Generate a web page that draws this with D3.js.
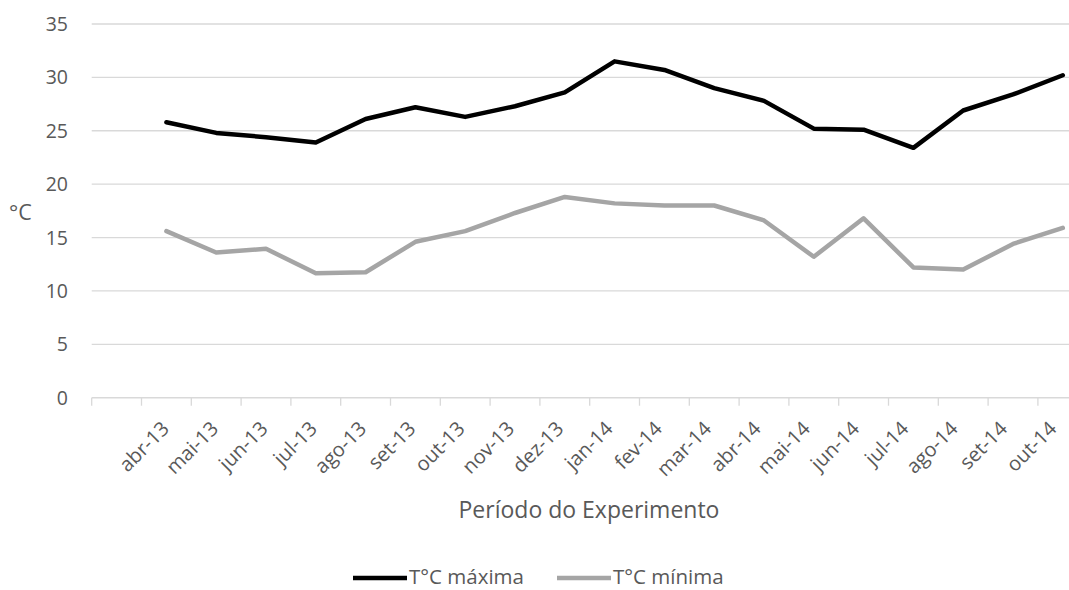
<!DOCTYPE html>
<html>
<head>
<meta charset="utf-8">
<script src="https://cdn.jsdelivr.net/npm/d3@7"></script>
<style>
  html, body { margin: 0; padding: 0; background: #fff; }
  svg { display: block; }
  text { font-family: "Open Sans", Lato, sans-serif; fill: #595959; }
</style>
</head>
<body>
<svg id="chart" width="1069" height="590"></svg>
<script>
// ---- data ----
const categories = ["", "abr-13", "mai-13", "jun-13", "jul-13", "ago-13", "set-13", "out-13", "nov-13", "dez-13",
  "jan-14", "fev-14", "mar-14", "abr-14", "mai-14", "jun-14", "jul-14", "ago-14", "set-14", "out-14"];
const maxima = [null, 25.8, 24.8, 24.4, 23.9, 26.1, 27.2, 26.3, 27.3, 28.6,
  31.5, 30.7, 29.0, 27.8, 25.2, 25.1, 23.4, 26.9, 28.4, 30.2];
const minima = [null, 15.6, 13.6, 13.95, 11.65, 11.75, 14.6, 15.6, 17.3, 18.8,
  18.2, 18.0, 18.0, 16.6, 13.2, 16.8, 12.2, 12.0, 14.4, 15.9];
const yTicks = [0, 5, 10, 15, 20, 25, 30, 35];
const seriesNames = ["T°C máxima", "T°C mínima"];
const seriesColors = ["#000000", "#a5a5a5"];

// ---- layout ----
const svg = d3.select("#chart");
const W = 1069;
const x = d3.scaleBand().domain(categories).range([91.7, 1087.7]).padding(0);
const y = d3.scaleLinear().domain([0, 35]).range([397.7, 24]);

// gridlines
svg.append("g").selectAll("line").data(yTicks.filter(d => d > 0)).join("line")
  .attr("x1", 91.7).attr("x2", W)
  .attr("y1", d => y(d)).attr("y2", d => y(d))
  .attr("stroke", "#d9d9d9").attr("stroke-width", 1.3);

// x axis line
svg.append("line").attr("x1", 91.7).attr("x2", W).attr("y1", y(0)).attr("y2", y(0))
  .attr("stroke", "#d9d9d9").attr("stroke-width", 1.5);
// tick marks at category boundaries
svg.append("g").selectAll("line").data(categories).join("line")
  .attr("x1", d => x(d)).attr("x2", d => x(d))
  .attr("y1", y(0)).attr("y2", y(0) + 8)
  .attr("stroke", "#d9d9d9").attr("stroke-width", 1.3);

// y labels
svg.append("g").selectAll("text").data(yTicks).join("text")
  .attr("x", 68).attr("y", d => y(d))
  .attr("dy", "0.36em")
  .attr("text-anchor", "end")
  .attr("font-size", 19.5)
  .text(d => d);

// x labels (rotated)
const labelCats = categories.filter(c => c !== "");
svg.append("g").selectAll("text").data(labelCats).join("text")
  .attr("transform", (d, i) => `translate(${x(d) + x.bandwidth() / 2 + 4 - i * 0.5},${430}) rotate(-45)`)
  .attr("text-anchor", "end")
  .attr("font-size", 20)
  .text(d => d);

// axis titles
svg.append("text").attr("x", 589).attr("y", 518).attr("text-anchor", "middle")
  .attr("font-size", 23).text("Período do Experimento");
svg.append("text").attr("x", 9).attr("y", 220).attr("font-size", 21.5).text("°C");

// lines
const line = d3.line()
  .defined(d => d.v != null)
  .x(d => x(d.c) + x.bandwidth() / 2)
  .y(d => y(d.v));
[maxima, minima].forEach((vals, i) => {
  svg.append("path")
    .datum(categories.map((c, j) => ({ c, v: vals[j] })))
    .attr("fill", "none")
    .attr("stroke", seriesColors[i])
    .attr("stroke-width", 4.5)
    .attr("stroke-linejoin", "round")
    .attr("stroke-linecap", "round")
    .attr("d", line);
});

// legend
const legendX = [353, 557];
seriesNames.forEach((n, i) => {
  svg.append("line").attr("x1", legendX[i]).attr("x2", legendX[i] + 54)
    .attr("y1", 578).attr("y2", 578)
    .attr("stroke", seriesColors[i]).attr("stroke-width", 4.5);
  svg.append("text").attr("x", legendX[i] + 56).attr("y", 584)
    .attr("font-size", 20.5).text(n);
});
</script>
</body>
</html>
